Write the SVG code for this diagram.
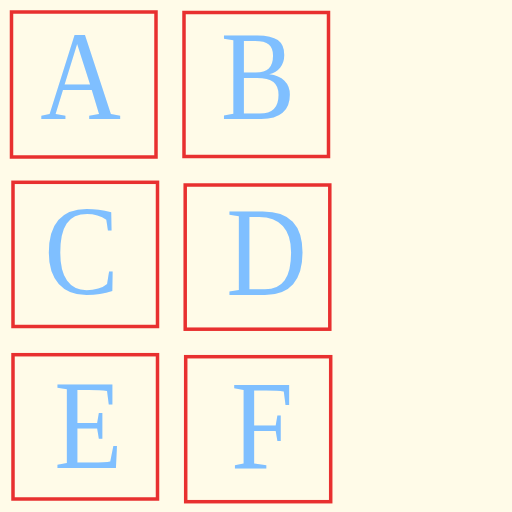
<svg xmlns="http://www.w3.org/2000/svg" width="512" height="512" viewBox="0 0 512 512">
<style>
.box{fill:none;stroke:#e8302f;stroke-width:3.5}
.lbl{font-family:"Liberation Serif","DejaVu Serif",serif;font-size:127px;fill:#7fbfff;text-anchor:middle}
</style>
<rect width="512" height="512" fill="#fffbe8"/>
<g id="A"><rect class="box" x="11.5" y="12" width="144.5" height="145"/><text class="lbl" transform="translate(80.5,119) scale(0.88,1)">A</text></g>
<g id="B"><rect class="box" x="184" y="12.5" width="144.5" height="144"/><text class="lbl" transform="translate(258,119) scale(0.88,1)">B</text></g>
<g id="C"><rect class="box" x="13" y="182.3" width="144.5" height="144.2"/><text class="lbl" transform="translate(81.5,294) scale(0.88,1)">C</text></g>
<g id="D"><rect class="box" x="185.2" y="185" width="144.6" height="144.2"/><text class="lbl" transform="translate(266.5,295) scale(0.88,1)">D</text></g>
<g id="E"><rect class="box" x="13" y="354.7" width="144.5" height="144.3"/><text class="lbl" transform="translate(88.5,468) scale(0.88,1)">E</text></g>
<g id="F"><rect class="box" x="185.7" y="356.7" width="145" height="145"/><text class="lbl" transform="translate(262,468) scale(0.88,1)">F</text></g>
<g id="connectors"/>
</svg>
